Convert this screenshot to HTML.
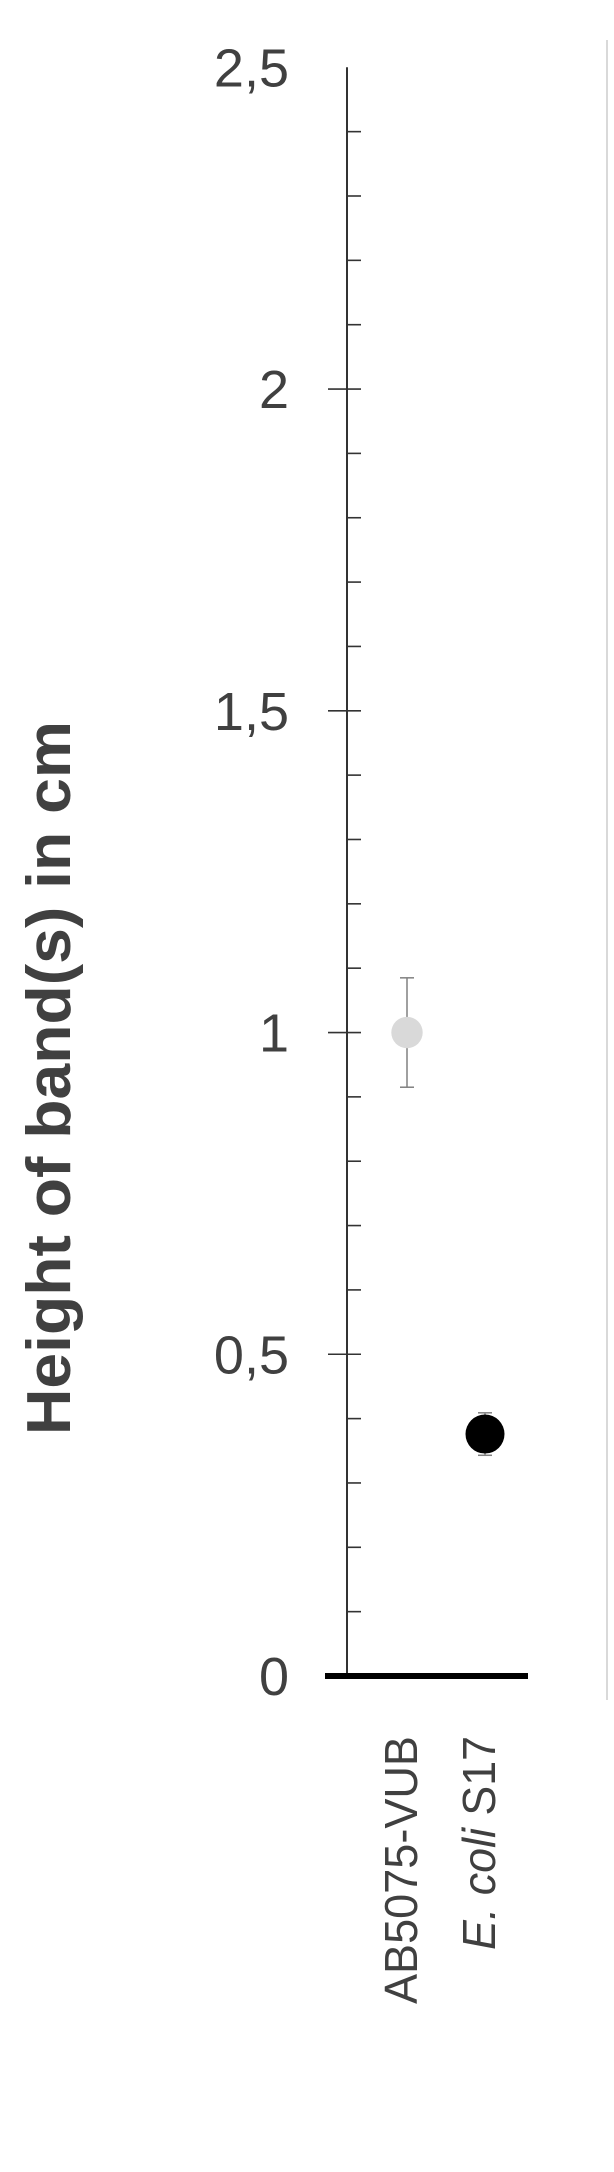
<!DOCTYPE html>
<html><head><meta charset="utf-8"><style>
html,body{margin:0;padding:0;background:#fff;width:614px;height:2172px;overflow:hidden}
svg{display:block}
</style></head><body>
<svg id="chart" width="614" height="2172" xmlns="http://www.w3.org/2000/svg">
<line x1="607" y1="40" x2="607" y2="1700" stroke="#d9d9d9" stroke-width="2"/>
<g id="yaxis"></g>
<g id="marks"></g>
<g id="xaxis"></g>
<text x="0" y="0" transform="translate(70,1078) rotate(-90)" text-anchor="middle" font-family="Liberation Sans, sans-serif" font-weight="bold" font-size="62" fill="#404040" textLength="714" lengthAdjust="spacingAndGlyphs">Height of band(s) in cm</text>
</svg>
<script>
const categories = ["AB5075-VUB", "E. coli S17"];
const values = [1.0, 0.376];
const errors = [0.085, 0.033];
const colors = ["#d9d9d9", "#000000"];
const tickValues = [0, 0.5, 1, 1.5, 2, 2.5];
const tickLabels = ["0", "0,5", "1", "1,5", "2", "2,5"];

const NS = "http://www.w3.org/2000/svg";
const y0 = 1676, yTop = 67.3, vMax = 2.5;
const axisX = 347;
function yScale(v){ return y0 - (v / vMax) * (y0 - yTop); }
const catX0 = 407, catStep = 78;
function xScale(i){ return catX0 + i * catStep; }
function mk(tag, attrs, parent){ const e = document.createElementNS(NS, tag); for (const k in attrs) e.setAttribute(k, attrs[k]); parent.appendChild(e); return e; }

const yaxis = document.getElementById('yaxis');
const axisLine = mk('line', {x1: axisX, y1: yScale(vMax), x2: axisX, y2: y0, stroke: '#333', 'stroke-width': 2}, yaxis);


for (let k = 0; k < 25; k++) {
  const v = k * 0.1;
  const major = k % 5 === 0;
  const t = mk('line', {x1: major ? 328 : axisX, y1: yScale(v), x2: 361, y2: yScale(v), stroke: '#333', 'stroke-width': 1.6}, yaxis);
  
  
}
tickValues.forEach((v, i) => {
  const t = mk('text', {x: 289, y: yScale(v) + 19, 'text-anchor': 'end', 'font-family': 'Liberation Sans, sans-serif', 'font-size': 54, fill: '#404040'}, yaxis);
  t.textContent = tickLabels[i];
  
  
});

const marks = document.getElementById('marks');
values.forEach((v, i) => {
  const x = xScale(i), yt = yScale(v + errors[i]), yb = yScale(v - errors[i]);
  const g = mk('g', {}, marks);
  
  
  const c = '#808080';
  mk('line', {x1: x, y1: yt, x2: x, y2: yb, stroke: c, 'stroke-width': 1.5}, g);
  mk('line', {x1: x - 7, y1: yt, x2: x + 7, y2: yt, stroke: c, 'stroke-width': 1.5}, g);
  mk('line', {x1: x - 7, y1: yb, x2: x + 7, y2: yb, stroke: c, 'stroke-width': 1.5}, g);
  mk('circle', {cx: x, cy: yScale(v), r: i === 0 ? 15.7 : 19.5, fill: colors[i]}, g);
});

const xaxis = document.getElementById('xaxis');
const base = mk('line', {x1: 325, y1: y0, x2: 528, y2: y0, stroke: '#000', 'stroke-width': 6}, xaxis);


const labelLen = [268, 214];
categories.forEach((c, i) => {
  const bx = xScale(i) + 10;
  const t = mk('text', {x: 0, y: 0, transform: 'translate(' + bx + ',1736) rotate(-90)', 'text-anchor': 'end', 'font-family': 'Liberation Sans, sans-serif', 'font-size': 46, fill: '#404040', textLength: labelLen[i], lengthAdjust: 'spacingAndGlyphs'}, xaxis);
  if (c.startsWith('E. coli')) {
    const ts = mk('tspan', {'font-style': 'italic'}, t); ts.textContent = 'E. coli';
    const ts2 = mk('tspan', {}, t); ts2.textContent = c.slice(7);
  } else t.textContent = c;
  
  
});
</script>
</body></html>
